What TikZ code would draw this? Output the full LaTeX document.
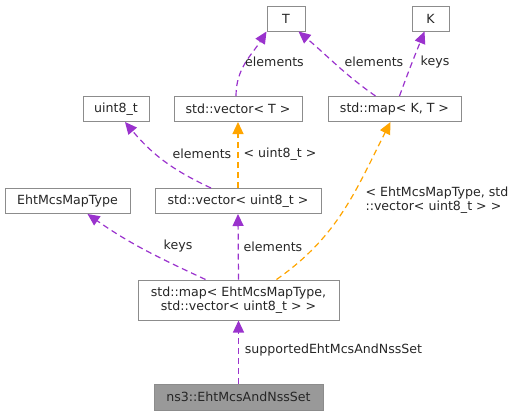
\documentclass[tikz,border=0pt]{standalone}
\usepackage{fontspec}
\setmainfont{DejaVu Sans}
\usetikzlibrary{positioning, arrows.meta}

\definecolor{edgepurple}{HTML}{9A32CD}
\definecolor{edgeorange}{HTML}{FFA500}
\definecolor{boxborder}{HTML}{8C8C8C}

\begin{document}
\begin{tikzpicture}[x=1pt,y=1pt]
		\tikzstyle{every node}=[font=\fontsize{12.6}{14.5}\selectfont, text=black!85]
		\tikzstyle{cls}=[draw=boxborder, line width=1pt, fill=white, minimum height=25, inner sep=2pt]
		\tikzstyle{member}=[draw=edgepurple, line width=1.2pt, dash pattern=on 6pt off 4pt,
		-{Triangle[length=12pt, width=11pt]}]
		\tikzstyle{templ}=[member, draw=edgeorange]
		
		\useasboundingbox (0,0) rectangle (516,-416);
		
		%% Klassen
		\node [cls, minimum width=38]  (T)      at (286,-18.5)  {T};
		\node [cls, minimum width=37]  (K)      at (430.5,-18.5) {K};
		\node [cls, minimum width=66]  (uint)   at (116,-109)   {uint8\_t};
		\node [cls, minimum width=128] (vecT)   at (238,-109)   {std::vector< T >};
		\node [cls, minimum width=133] (mapKT)  at (394.5,-109) {std::map< K, T >};
		\node [cls, minimum width=125] (ehttype) at (67.5,-201) {EhtMcsMapType};
		\node [cls, minimum width=166] (vecuint) at (238,-201)  {std::vector< uint8\_t >};
		\node [cls, minimum width=201, minimum height=40, align=center] (bigmap) at (238.5,-300)
		{std::map< EhtMcsMapType,\\ std::vector< uint8\_t > >};
		\node [cls, minimum width=169, minimum height=26, fill=black!40] (nsset) at (238.5,-397)
		{ns3::EhtMcsAndNssSet};
		
		%% Verbindungen
		\draw [member] (vecT.north) ++(-2,0) coordinate (vt) (vt) to[out=90, in=-122] (T.south west);
		\draw [member] ([xshift=-19]mapKT.north) to[out=145, in=-40] ([xshift=-7]T.south east);
		\draw [member] ([xshift=5]mapKT.north) to[out=70, in=-112] ([xshift=-6]K.south);
		\draw [member] ([xshift=-27]vecuint.north) to[out=155, in=-50] ([xshift=9]uint.south);
		\draw [templ]  (vecuint.north) -- (vecT.south);
		\draw [member] ([xshift=-33]bigmap.north) to[out=155, in=-35] ([xshift=20]ehttype.south);
		\draw [member] (bigmap.north) -- (vecuint.south);
		\draw [templ]  ([xshift=38]bigmap.north) to[out=35, in=-117] ([xshift=-4]mapKT.south);
		\draw [member] (nsset.north) -- (bigmap.south);
		
		%% Beschriftungen
		\node (lblvecT)  at (274.5,-62) {elements};
		\node (lblmapT)  at (374,-62)   {elements};
		\node (lblmapK)  at (435,-62)   {keys};
		\node (lblvecu)  at (202,-154)  {elements};
		\node (lbltmplu) at (280,-154)  {< uint8\_t >};
		\node [align=left, anchor=west] (lbltmplm) at (362,-200)
		{< EhtMcsMapType, std\\::vector< uint8\_t > >};
		\node (lblkeys)  at (178,-246.5) {keys};
		\node (lblelem)  at (273,-246.5) {elements};
		\node (lblnss)   at (333.5,-350.5) {supportedEhtMcsAndNssSet};
		
	\end{tikzpicture}
\end{document}
